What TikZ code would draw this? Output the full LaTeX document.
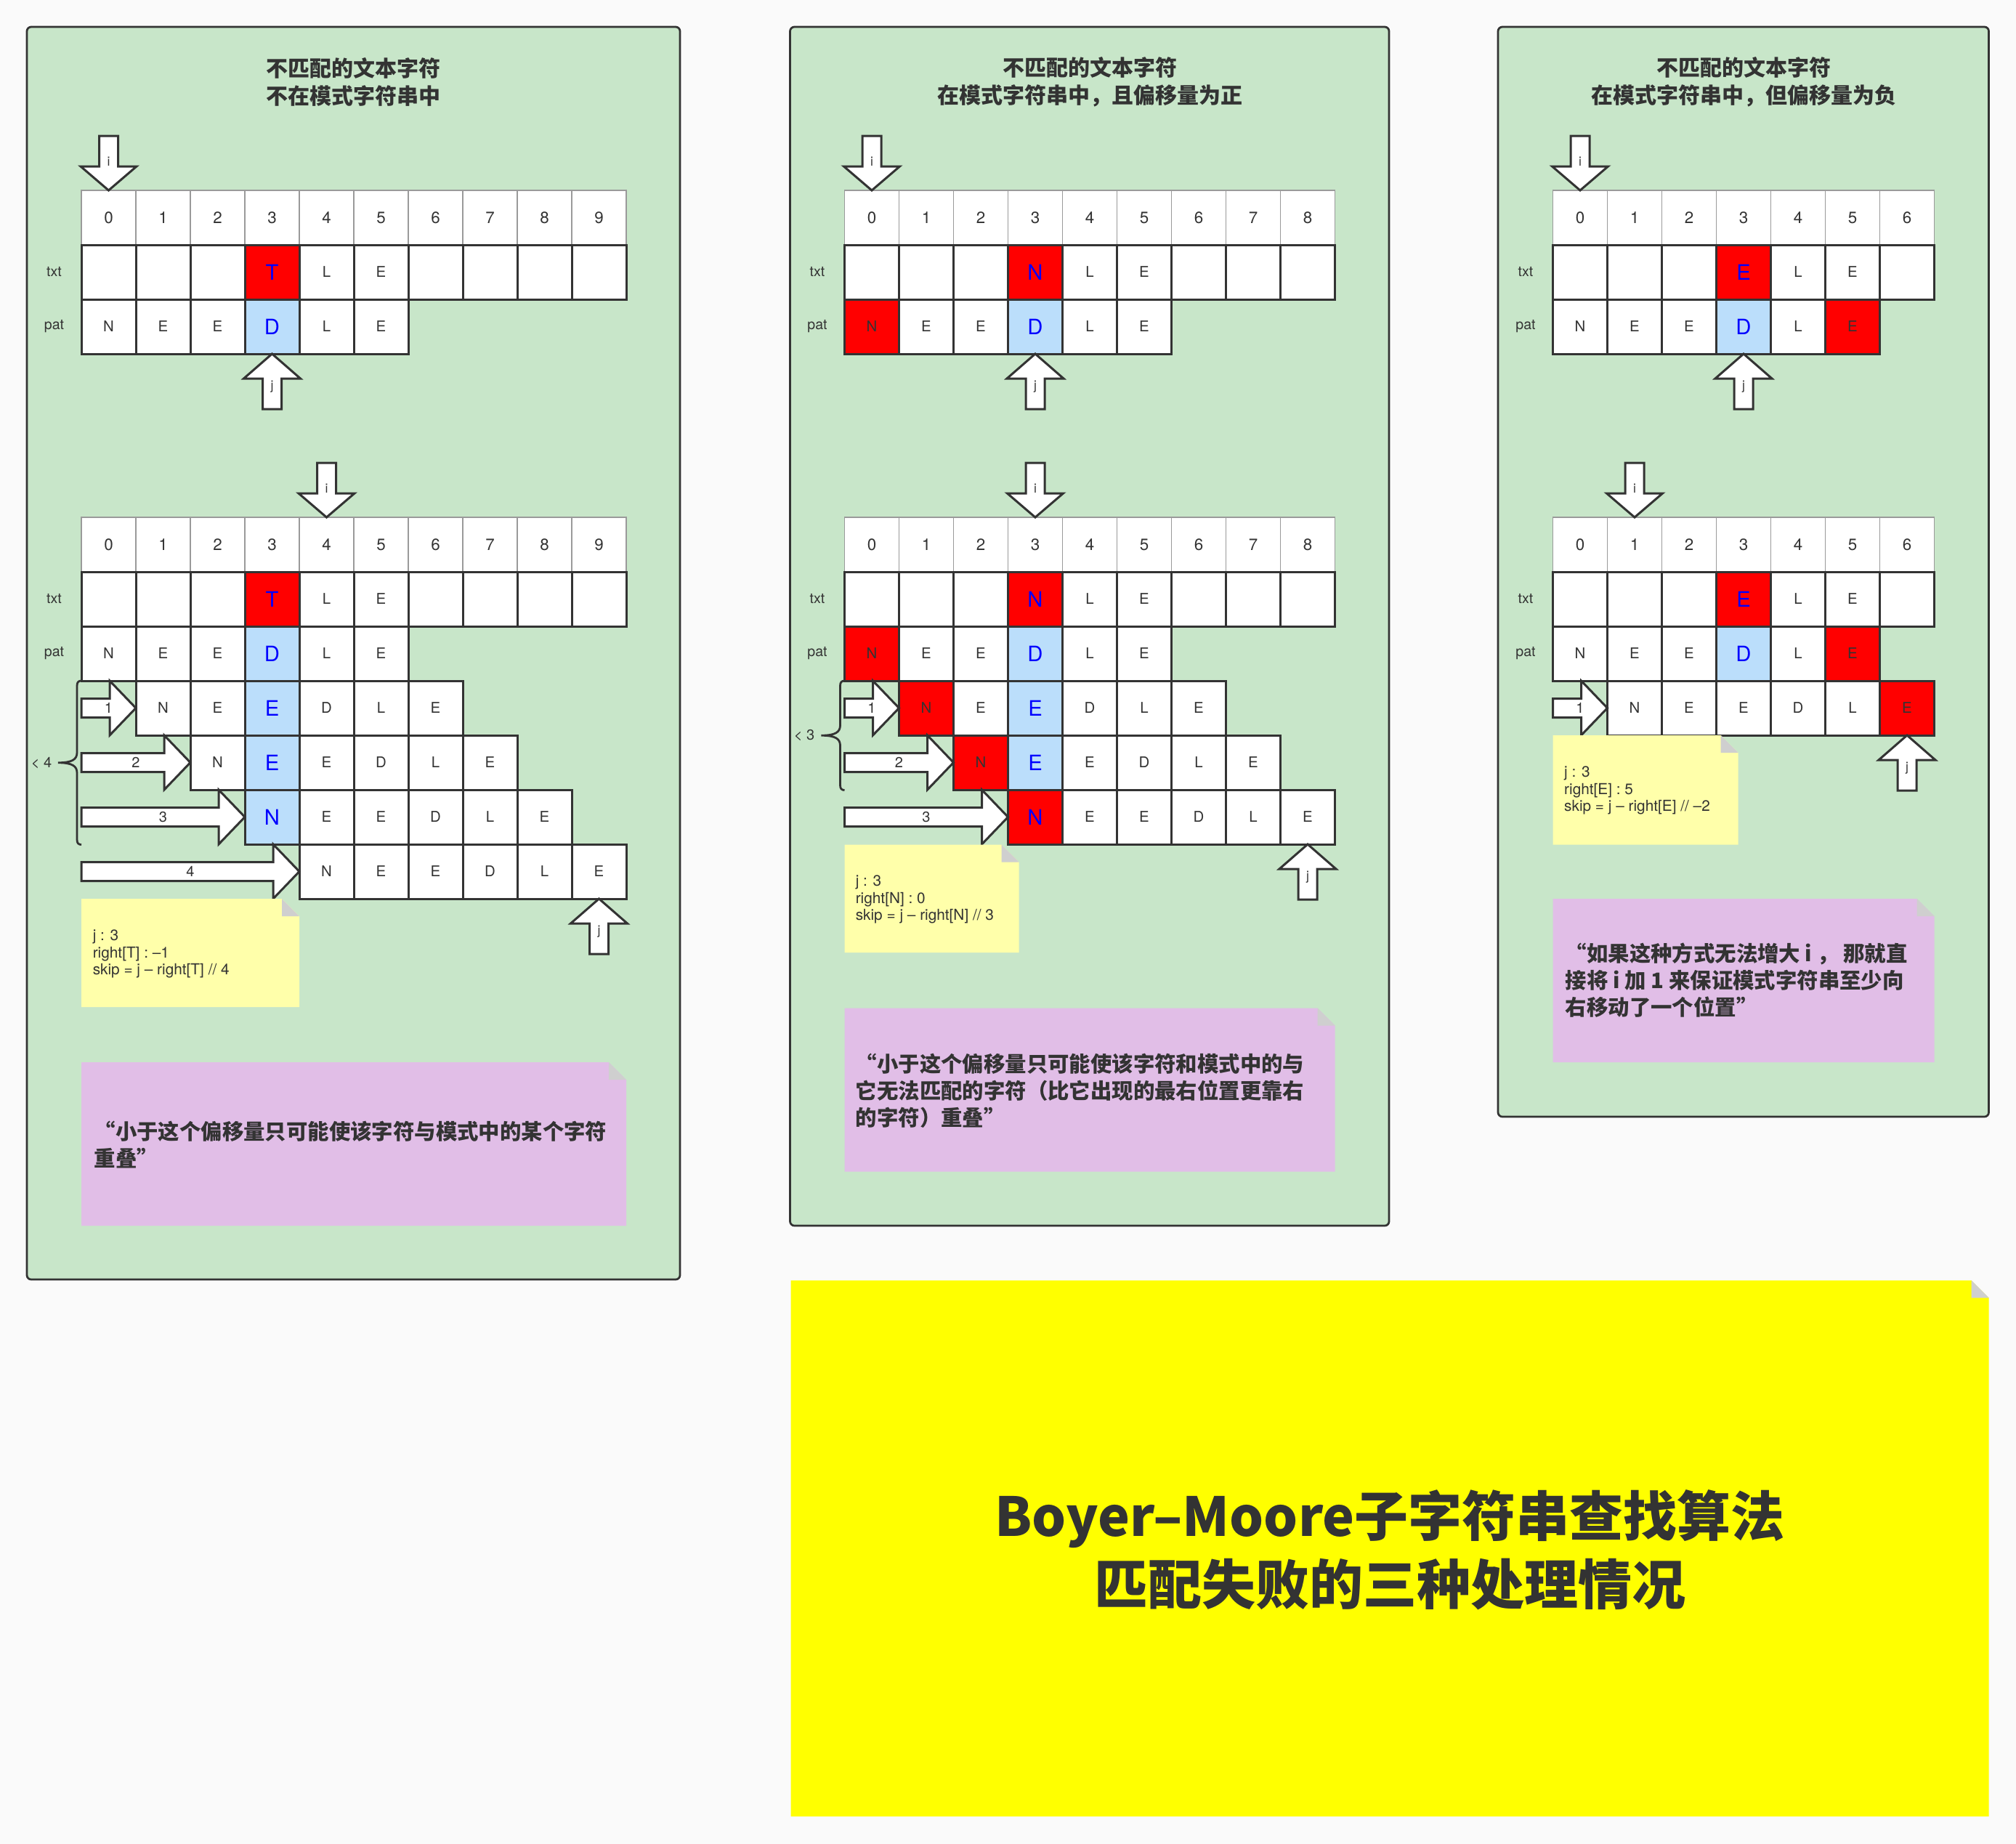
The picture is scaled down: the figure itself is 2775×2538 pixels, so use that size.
\documentclass[tikz,border=0pt]{standalone}
\usepackage{fontspec}
\setmainfont{TeX Gyre Heros}
\newfontfamily\cjk{Noto Sans CJK SC}
\usetikzlibrary{calc}
\definecolor{bg}{HTML}{FAFAFA}
\definecolor{panel}{HTML}{C8E6C9}
\definecolor{dk}{HTML}{333333}
\definecolor{idxline}{HTML}{9A9A9A}
\definecolor{hlblue}{HTML}{BBDEFB}
\definecolor{noteY}{HTML}{FFFFAA}
\definecolor{noteP}{HTML}{E1BEE7}
\definecolor{foldc}{HTML}{CFCFCF}
\definecolor{bigY}{HTML}{FFFF00}
\tikzset{
  panelsty/.style={fill=panel, draw=dk, line width=0.69pt, rounded corners=1.5pt},
  cbase/.style={inner sep=0pt, outer sep=0pt, minimum width=18.75pt, minimum height=18.75pt},
  idx/.style={cbase, draw=idxline, line width=0.4pt, fill=white, font=\fontsize{5.6pt}{6pt}\selectfont, text=dk},
  cl/.style={cbase, draw=dk, line width=0.75pt, fill=white, font=\fontsize{5.1pt}{6pt}\selectfont, text=dk},
  hlb/.style={cl, fill=hlblue, text=blue, font=\fontsize{7.3pt}{8pt}\selectfont},
  hlr/.style={cl, fill=red, text=blue, font=\fontsize{7.3pt}{8pt}\selectfont},
  rs/.style={cl, fill=red},
  blk/.style={draw=dk, fill=white, line width=0.75pt, line join=miter},
  albl/.style={inner sep=0pt, font=\fontsize{4.4pt}{5pt}\selectfont, text=dk},
  nlbl/.style={inner sep=0pt, font=\fontsize{5pt}{5.5pt}\selectfont, text=dk},
  lbl/.style={inner sep=0pt, font=\fontsize{4.9pt}{5.5pt}\selectfont, text=dk},
  ntxt/.style={inner sep=0pt, align=left, anchor=west, font=\fontsize{5.2pt}{5.9pt}\selectfont, text=dk},
  ptxt/.style={inner sep=0pt, align=left, anchor=west, font=\cjk\bfseries\fontsize{7.35pt}{9.25pt}\selectfont, text=dk},
  ttl/.style={inner sep=0pt, align=center, font=\cjk\bfseries\fontsize{7.5pt}{9.5pt}\selectfont, text=dk},
  bigt/.style={inner sep=0pt, align=center, font=\cjk\bfseries\fontsize{18.5pt}{23.5pt}\selectfont, text=dk},
  brc/.style={draw=dk, line width=0.7pt},
  kind/.code={\edef\tmpk{#1}\expandafter\pgfkeysalso\expandafter{\tmpk}},
}
% a row of cells: prefix, x0, top, row, start column, list
\newcommand\cellrow[6]{%
  \foreach \ch/\st [count=\k from 0] in {#6}{%
    \pgfmathtruncatemacro\cc{#5+\k}%
    \node[kind=\st] (#1r#4c\cc) at ({#2+75*\cc+37.5},{#3+75*#4+37.5}) {\ch};
  }}
% down arrow with tip at #1
\newcommand\darrow[3]{%
  \draw[blk] (#1) -- ++(38.5,-33) -- ++(-25.5,0) -- ++(0,-42) -- ++(-26,0) -- ++(0,42) -- ++(-25.5,0) -- cycle;
  \node[albl] (#2) at ($(#1)+(0,-40)$) {#3};}
% up arrow with tip at #1
\newcommand\uarrow[3]{%
  \draw[blk] (#1) -- ++(39,34) -- ++(-26,0) -- ++(0,42) -- ++(-26,0) -- ++(0,-42) -- ++(-26,0) -- cycle;
  \node[albl] (#2) at ($(#1)+(0,45)$) {#3};}
% right arrow with tip at #1, length #2
\newcommand\rarrow[4]{%
  \draw[blk] (#1) -- ++(-36,-37.5) -- ++(0,24.5) -- ++({-(#2-36)},0) -- ++(0,26) -- ++({#2-36},0) -- ++(0,24.5) -- cycle;
  \node[nlbl] (#3) at ($(#1)+({-#2/2},0)$) {#4};}
% sticky note
\newcommand\note[5]{%
  \fill[#5] (#1,#2) -- ({#3-24},#2) -- (#3,{#2+24}) -- (#3,#4) -- (#1,#4) -- cycle;
  \fill[foldc] ({#3-24},#2) -- ({#3-24},{#2+24}) -- (#3,{#2+24}) -- cycle;}
% brace
\newcommand\bracepath[3]{%
  \pgfmathsetmacro\ym{(#2+#3)/2}%
  \draw[brc] (#1,#2) .. controls ({#1-4},#2) and ({#1-6},{#2+2}) .. ({#1-6},{#2+7})
    -- ({#1-6},{\ym-14}) .. controls ({#1-6},{\ym-5}) and ({#1-12},\ym) .. ({#1-32},\ym)
    .. controls ({#1-12},\ym) and ({#1-6},{\ym+5}) .. ({#1-6},{\ym+14})
    -- ({#1-6},{#3-7}) .. controls ({#1-6},{#3-2}) and ({#1-4},#3) .. (#1,#3);}
\begin{document}
\begin{tikzpicture}[x=0.25pt,y=-0.25pt]
\useasboundingbox (0,0) rectangle (2775,2538);
\fill[bg] (0,0) rectangle (2775,2538);

% panels
\draw[panelsty] (37,37) rectangle (936,1761);
\draw[panelsty] (1087.5,37) rectangle (1912,1687);
\draw[panelsty] (2062,37) rectangle (2737.5,1537);

% titles
\node[ttl] (At) at (486.5,112.7) {不匹配的文本字符\\不在模式字符串中};
\node[ttl] (Bt) at (1500,112.7) {不匹配的文本字符\\在模式字符串中，且偏移量为正};
\node[ttl] (Ct) at (2400,112.7) {不匹配的文本字符\\在模式字符串中，但偏移量为负};

% ================= panel A =================
\cellrow{Au}{112}{262}{0}{0}{0/idx,1/idx,2/idx,3/idx,4/idx,5/idx,6/idx,7/idx,8/idx,9/idx}
\cellrow{Au}{112}{262}{1}{0}{/cl,/cl,/cl,T/hlr,L/cl,E/cl,/cl,/cl,/cl,/cl}
\cellrow{Au}{112}{262}{2}{0}{N/cl,E/cl,E/cl,D/hlb,L/cl,E/cl}
\node[lbl] (Autxt) at (74.5,374.5) {txt};
\node[lbl] (Aupat) at (74.5,449.5) {pat};
\darrow{Aur0c0.north}{Aui}{i}
\uarrow{Aur2c3.south}{Auj}{j}

\cellrow{Al}{112}{712}{0}{0}{0/idx,1/idx,2/idx,3/idx,4/idx,5/idx,6/idx,7/idx,8/idx,9/idx}
\cellrow{Al}{112}{712}{1}{0}{/cl,/cl,/cl,T/hlr,L/cl,E/cl,/cl,/cl,/cl,/cl}
\cellrow{Al}{112}{712}{2}{0}{N/cl,E/cl,E/cl,D/hlb,L/cl,E/cl}
\cellrow{Al}{112}{712}{3}{1}{N/cl,E/cl,E/hlb,D/cl,L/cl,E/cl}
\cellrow{Al}{112}{712}{4}{2}{N/cl,E/hlb,E/cl,D/cl,L/cl,E/cl}
\cellrow{Al}{112}{712}{5}{3}{N/hlb,E/cl,E/cl,D/cl,L/cl,E/cl}
\cellrow{Al}{112}{712}{6}{4}{N/cl,E/cl,E/cl,D/cl,L/cl,E/cl}
\node[lbl] (Altxt) at (74.5,824.5) {txt};
\node[lbl] (Alpat) at (74.5,899.5) {pat};
\darrow{Alr0c4.north}{Ali}{i}
\rarrow{Alr3c1.west}{75}{Ala1}{1}
\rarrow{Alr4c2.west}{150}{Ala2}{2}
\rarrow{Alr5c3.west}{225}{Ala3}{3}
\rarrow{Alr6c4.west}{300}{Ala4}{4}
\uarrow{Alr6c9.south}{Alj}{j}
\bracepath{112}{937}{1162.5}
\node[nlbl] (Albr) at (57,1050) {< 4};

\note{112}{1237}{412}{1386}{noteY}
\node[ntxt] (Any) at (127,1313) {j : 3\\right[T] : –1\\skip = j – right[T] // 4};
\note{112}{1462}{862}{1687}{noteP}
\node[ptxt] (Anp) at (129,1575) {“小于这个偏移量只可能使该字符与模式中的某个字符\\重叠”};

% ================= panel B =================
\cellrow{Bu}{1162.5}{262}{0}{0}{0/idx,1/idx,2/idx,3/idx,4/idx,5/idx,6/idx,7/idx,8/idx}
\cellrow{Bu}{1162.5}{262}{1}{0}{/cl,/cl,/cl,N/hlr,L/cl,E/cl,/cl,/cl,/cl}
\cellrow{Bu}{1162.5}{262}{2}{0}{N/rs,E/cl,E/cl,D/hlb,L/cl,E/cl}
\node[lbl] (Butxt) at (1125,374.5) {txt};
\node[lbl] (Bupat) at (1125,449.5) {pat};
\darrow{Bur0c0.north}{Bui}{i}
\uarrow{Bur2c3.south}{Buj}{j}

\cellrow{Bl}{1162.5}{712}{0}{0}{0/idx,1/idx,2/idx,3/idx,4/idx,5/idx,6/idx,7/idx,8/idx}
\cellrow{Bl}{1162.5}{712}{1}{0}{/cl,/cl,/cl,N/hlr,L/cl,E/cl,/cl,/cl,/cl}
\cellrow{Bl}{1162.5}{712}{2}{0}{N/rs,E/cl,E/cl,D/hlb,L/cl,E/cl}
\cellrow{Bl}{1162.5}{712}{3}{1}{N/rs,E/cl,E/hlb,D/cl,L/cl,E/cl}
\cellrow{Bl}{1162.5}{712}{4}{2}{N/rs,E/hlb,E/cl,D/cl,L/cl,E/cl}
\cellrow{Bl}{1162.5}{712}{5}{3}{N/hlr,E/cl,E/cl,D/cl,L/cl,E/cl}
\node[lbl] (Bltxt) at (1125,824.5) {txt};
\node[lbl] (Blpat) at (1125,899.5) {pat};
\darrow{Blr0c3.north}{Bli}{i}
\rarrow{Blr3c1.west}{75}{Bla1}{1}
\rarrow{Blr4c2.west}{150}{Bla2}{2}
\rarrow{Blr5c3.west}{225}{Bla3}{3}
\uarrow{Blr5c8.south}{Blj}{j}
\bracepath{1162.5}{937}{1087.5}
\node[nlbl] (Blbr) at (1107,1012) {< 3};

\note{1162.5}{1162.5}{1402.5}{1311}{noteY}
\node[ntxt] (Bny) at (1177,1238) {j : 3\\right[N] : 0\\skip = j – right[N] // 3};
\note{1162.5}{1387.5}{1837.5}{1612.5}{noteP}
\node[ptxt] (Bnp) at (1177,1501) {“小于这个偏移量只可能使该字符和模式中的与\\它无法匹配的字符（比它出现的最右位置更靠右\\的字符）重叠”};

% ================= panel C =================
\cellrow{Cu}{2137.5}{262}{0}{0}{0/idx,1/idx,2/idx,3/idx,4/idx,5/idx,6/idx}
\cellrow{Cu}{2137.5}{262}{1}{0}{/cl,/cl,/cl,E/hlr,L/cl,E/cl,/cl}
\cellrow{Cu}{2137.5}{262}{2}{0}{N/cl,E/cl,E/cl,D/hlb,L/cl,E/rs}
\node[lbl] (Cutxt) at (2100,374.5) {txt};
\node[lbl] (Cupat) at (2100,449.5) {pat};
\darrow{Cur0c0.north}{Cui}{i}
\uarrow{Cur2c3.south}{Cuj}{j}

\cellrow{Cl}{2137.5}{712}{0}{0}{0/idx,1/idx,2/idx,3/idx,4/idx,5/idx,6/idx}
\cellrow{Cl}{2137.5}{712}{1}{0}{/cl,/cl,/cl,E/hlr,L/cl,E/cl,/cl}
\cellrow{Cl}{2137.5}{712}{2}{0}{N/cl,E/cl,E/cl,D/hlb,L/cl,E/rs}
\cellrow{Cl}{2137.5}{712}{3}{1}{N/cl,E/cl,E/cl,D/cl,L/cl,E/rs}
\node[lbl] (Cltxt) at (2100,824.5) {txt};
\node[lbl] (Clpat) at (2100,899.5) {pat};
\darrow{Clr0c1.north}{Cli}{i}
\rarrow{Clr3c1.west}{75}{Cla1}{1}
\uarrow{Clr3c6.south}{Clj}{j}

\note{2137.5}{1012}{2392.5}{1162.5}{noteY}
\node[ntxt] (Cny) at (2152.4,1088) {j : 3\\right[E] : 5\\skip = j – right[E] // –2};
\note{2137.5}{1237}{2662.5}{1462}{noteP}
\node[ptxt] (Cnp) at (2154,1349) {“如果这种方式无法增大 i ， 那就直\\接将 i 加 1 来保证模式字符串至少向\\右移动了一个位置”};

% ================= big title =================
\note{1088.5}{1762.3}{2737.7}{2500}{bigY}
\node[bigt] (T) at (1913,2133) {Boyer–Moore子字符串查找算法\\匹配失败的三种处理情况};
\end{tikzpicture}
\end{document}
